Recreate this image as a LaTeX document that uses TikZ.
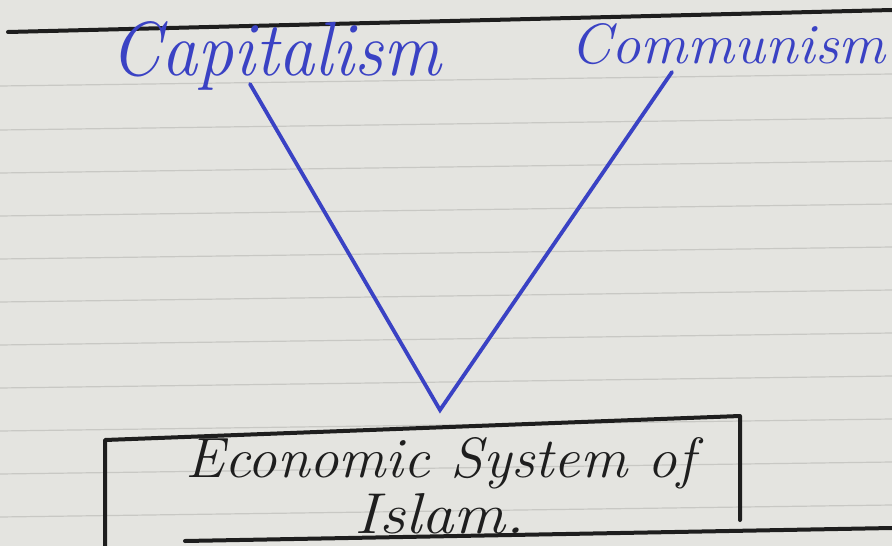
\documentclass[tikz,border=0pt]{standalone}
\usepackage{graphicx}
\definecolor{paper}{RGB}{228,228,224}
\definecolor{rule}{RGB}{200,200,196}
\definecolor{ink}{RGB}{58,66,196}
\definecolor{pen}{RGB}{30,30,30}
\begin{document}
\begin{tikzpicture}[x=1pt,y=-1pt,
  ruled/.style={draw=rule,line width=1.2pt},
  blueline/.style={draw=ink,line width=3.8pt,line cap=round},
  blackline/.style={draw=pen,line width=4pt,line cap=round,line join=round},
  bluetext/.style={text=ink,inner sep=0pt,font=\fontsize{62}{62}\selectfont\itshape},
  blacktext/.style={text=pen,inner sep=0pt,align=center,font=\fontsize{52}{50}\selectfont\itshape}]
\fill[paper] (0,0) rectangle (892,546);
\useasboundingbox (0,0) rectangle (892,546);
% ruled lines
\foreach \yy in {80,124,167,210,253,296,339,382,425,468,511}
  \draw[ruled] (0,\yy+6) -- (892,\yy-6);
% top dark line
\draw[blackline,line width=4pt] (8,32) -- (892,10);
% labels
\node[bluetext] (cap) at (276,56) {\resizebox{330pt}{54pt}{Capitalism}};
\node[bluetext] (com) at (728,44) {\resizebox{315pt}{40pt}{Communism}};
% V
\coordinate (capfoot) at (250,84);
\coordinate (comfoot) at (672,72);
\coordinate (apex) at (440,410);
\draw[blueline] (capfoot) -- (apex) -- (comfoot);
% box
\coordinate (bl) at (105,560);
\coordinate (tl) at (105,440);
\coordinate (tr) at (740,416);
\coordinate (br) at (740,520);
\coordinate (b1) at (185,541);
\coordinate (b2) at (892,528);
\draw[blackline] (bl) -- (tl) -- (tr) -- (br);
\draw[blackline] (b1) -- (b2);
\node[blacktext] (eco) at (440,463) {\resizebox{510pt}{40pt}{Economic System of}};
\node[blacktext] (isl) at (440,514) {\resizebox{170pt}{40pt}{Islam.}};
\end{tikzpicture}
\end{document}
